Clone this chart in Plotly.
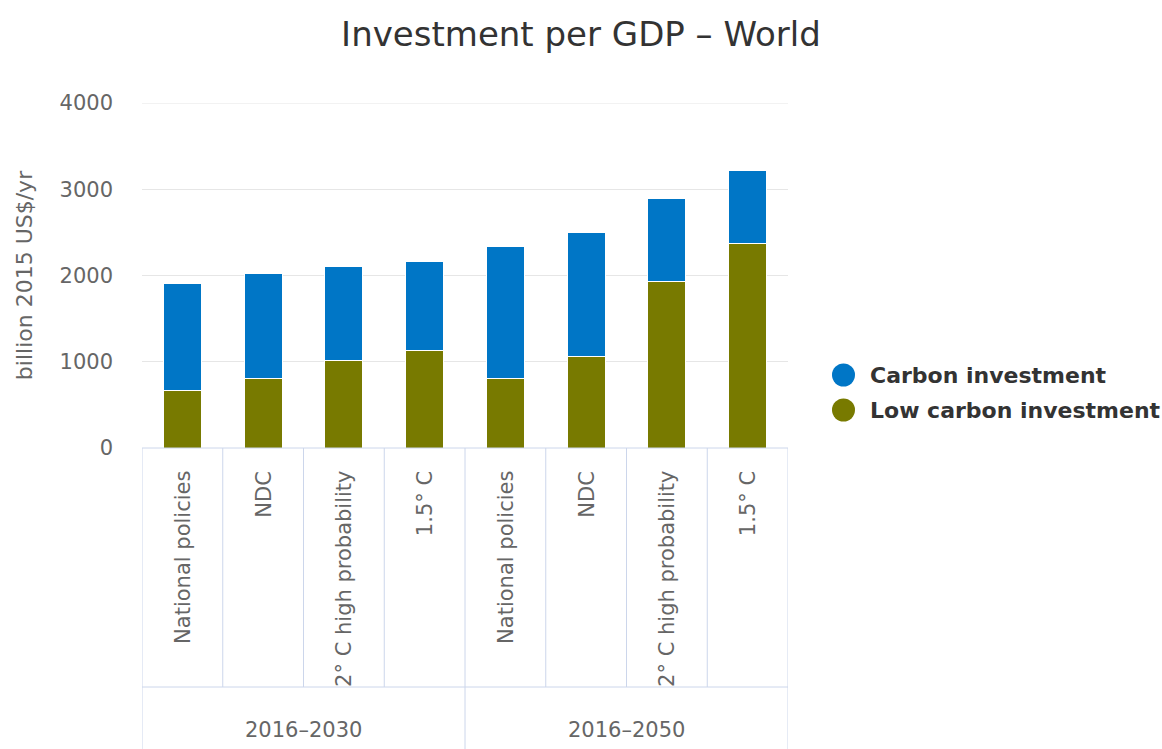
import plotly.graph_objects as go

# Scenario categories, grouped by period
periods = ["2016-2030", "2016-2050"]
scenarios = ["National policies", "NDC", "2° C high probability", "1.5° C"]

# Investment values, billion 2015 US$/yr
low_carbon = [670, 806, 1019, 1135, 810, 1065, 1928, 2370]
carbon = [1243, 1223, 1080, 1033, 1521, 1432, 964, 847]

y_ticks = [0, 1000, 2000, 3000, 4000]

BLUE = "#0076c6"
OLIVE = "#787a00"
GRID_LINE = "#e6e6e6"
AXIS_LINE = "#ccd6eb"
LABEL = "#666666"
FONT = "DejaVu Sans"

W, H = 1162, 749
L, R, T, B = 142, 788, 103, 448  # plot area in pixels

n_cat = len(periods) * len(scenarios)
xpos = list(range(n_cat))


def py(pixel_y):
    """Pixel row -> paper y coordinate."""
    return (B - pixel_y) / (B - T)


fig = go.Figure()
fig.add_trace(go.Bar(
    x=xpos, y=low_carbon, name="Low carbon investment",
    marker=dict(color=OLIVE, line=dict(color="white", width=1)),
    width=0.47, showlegend=False,
))
fig.add_trace(go.Bar(
    x=xpos, y=carbon, name="Carbon investment",
    marker=dict(color=BLUE, line=dict(color="white", width=1)),
    width=0.47, showlegend=False,
))

shapes = []
annotations = []

# top gridline at the axis maximum
shapes.append(dict(type="line", xref="paper", yref="y", x0=0, x1=1,
                   y0=y_ticks[-1], y1=y_ticks[-1],
                   line=dict(color=GRID_LINE, width=1), layer="below"))

# grouped category table below the plot
line = dict(color=AXIS_LINE, width=1)
shapes.append(dict(type="line", xref="paper", yref="paper", x0=0, x1=1,
                   y0=0, y1=0, line=line))
shapes.append(dict(type="line", xref="paper", yref="paper", x0=0, x1=1,
                   y0=py(687), y1=py(687), line=line))
for i in range(n_cat + 1):
    xb = i - 0.5
    is_group_edge = i % len(scenarios) == 0
    shapes.append(dict(type="line", xref="x", yref="paper", x0=xb, x1=xb,
                       y0=0, y1=py(760) if is_group_edge else py(687),
                       line=line))

for i in range(n_cat):
    annotations.append(dict(
        x=xpos[i], y=py(469), xref="x", yref="paper",
        text=scenarios[i % len(scenarios)], textangle=-90,
        xanchor="center", yanchor="top", showarrow=False,
        font=dict(family=FONT, size=21, color=LABEL),
    ))
for g, period in enumerate(periods):
    centre = g * len(scenarios) + (len(scenarios) - 1) / 2
    annotations.append(dict(
        x=centre, y=py(730), xref="x", yref="paper",
        text=period.replace("-", " – ").replace(" ", ""),
        xanchor="center", yanchor="middle",
        showarrow=False, font=dict(family=FONT, size=21, color=LABEL),
    ))

# legend drawn as circles plus bold labels
legend_items = [("Carbon investment", BLUE, 375), ("Low carbon investment", OLIVE, 410)]
for text, color, yc in legend_items:
    shapes.append(dict(type="circle", xref="paper", yref="paper",
                       x0=(832 - L) / (R - L), x1=(855 - L) / (R - L),
                       y0=py(yc + 11.5), y1=py(yc - 11.5),
                       fillcolor=color, line=dict(width=0)))
    annotations.append(dict(
        x=(868 - L) / (R - L), y=py(yc), xref="paper", yref="paper",
        text="<b>" + text + "</b>", xanchor="left", yanchor="middle",
        showarrow=False, font=dict(family=FONT, size=22, color="#333333"),
    ))

fig.update_layout(
    width=W, height=H,
    margin=dict(l=L, r=W - R, t=T, b=H - B),
    paper_bgcolor="white", plot_bgcolor="white",
    barmode="stack",
    bargap=0.53,
    title=dict(text="Investment per GDP – World", x=0.5, xref="container",
               xanchor="center", y=1 - 34 / H, yanchor="middle",
               font=dict(family=FONT, size=34, color="#333333")),
    xaxis=dict(range=[-0.5, n_cat - 0.5], showticklabels=False,
               showgrid=False, zeroline=False, ticks=""),
    yaxis=dict(range=[0, 4000], tickvals=y_ticks,
               tickfont=dict(family=FONT, size=21, color=LABEL),
               showgrid=True, gridcolor=GRID_LINE, gridwidth=1,
               zeroline=False, ticks="", ticklabelstandoff=28,
               title=dict(text="billion 2015 US$/yr", standoff=20,
                          font=dict(family=FONT, size=22, color=LABEL))),
    shapes=shapes,
    annotations=annotations,
    showlegend=False,
)

fig.write_html("out.html")
